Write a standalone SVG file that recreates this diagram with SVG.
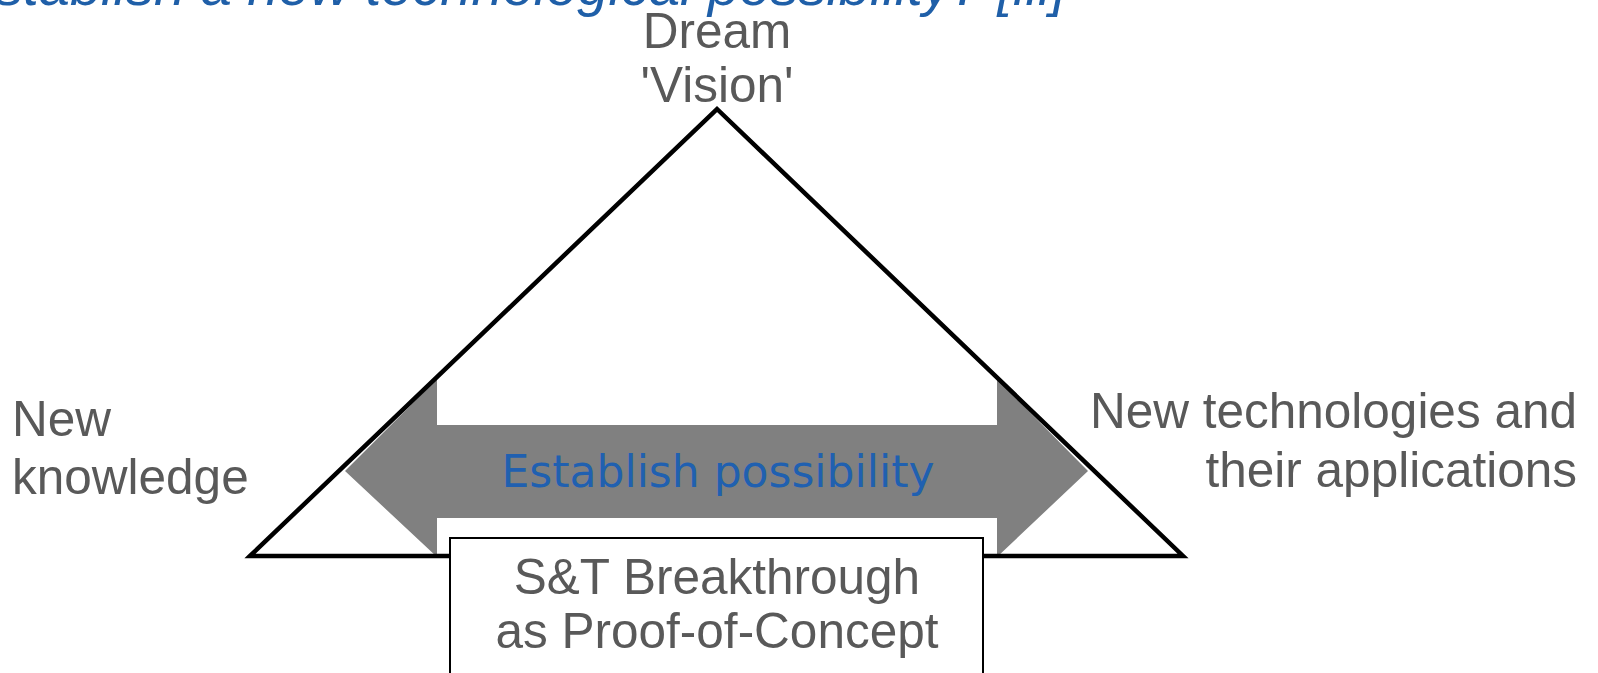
<svg xmlns="http://www.w3.org/2000/svg" width="1598" height="673" viewBox="0 0 1598 673">
<style>
.lbl{font-family:"Liberation Sans",Arial,sans-serif;font-size:49.5px;fill:#595959}
.title{font-family:"Liberation Sans",Arial,sans-serif;font-size:56px;font-style:italic;fill:#1f5fa8}
.est{font-family:"DejaVu Sans",Verdana,sans-serif;font-size:44px;fill:#2060b0}
</style>
<rect width="1598" height="673" fill="#ffffff"/>
<text class="title" x="1066" y="5" text-anchor="end">establish a new technological possibility? [iii]</text>
<g id="triangle-bg">
<polygon points="250,556 717,109 1183,556" fill="#ffffff"/>
</g>
<g id="connectors">
<polygon id="arrow" points="345,471 437,379 437,425 997,425 997,379 1088,471 997,557 997,518 437,518 437,557" fill="#808080"/>
</g>
<g id="triangle">
<polygon points="250,556 717,109 1183,556" fill="none" stroke="#000" stroke-width="4.5" stroke-linejoin="miter"/>
</g>
<g id="node-dream">
<text class="lbl" x="717" y="48" text-anchor="middle">Dream</text>
<text class="lbl" x="717" y="102" text-anchor="middle">'Vision'</text>
</g>
<g id="node-knowledge">
<text class="lbl" x="12" y="436">New</text>
<text class="lbl" x="12" y="494">knowledge</text>
</g>
<g id="node-tech">
<text class="lbl" x="1577" y="428" text-anchor="end">New technologies and</text>
<text class="lbl" x="1577" y="487" text-anchor="end">their applications</text>
</g>
<g id="node-establish">
<text class="est" x="718" y="487" text-anchor="middle">Establish possibility</text>
</g>
<g id="node-breakthrough">
<rect x="450" y="538" width="533" height="160" fill="#ffffff" stroke="#000" stroke-width="2"/>
<text class="lbl" x="717" y="594" text-anchor="middle">S&amp;T Breakthrough</text>
<text class="lbl" x="717" y="648" text-anchor="middle">as Proof-of-Concept</text>
</g>
</svg>
